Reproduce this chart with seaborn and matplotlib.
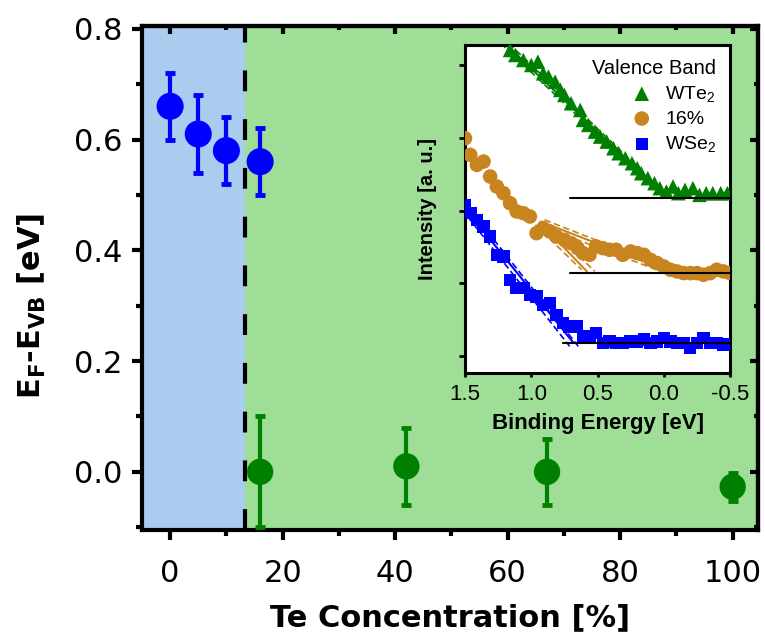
import numpy as np
import pandas as pd
import matplotlib
matplotlib.use("Agg")
import matplotlib.pyplot as plt
from matplotlib.ticker import MultipleLocator
import seaborn as sns

# ---------------- main data ----------------
se_conc = [0, 5, 10, 16]
se_val = [0.66, 0.61, 0.58, 0.56]
se_err = [0.06, 0.07, 0.06, 0.06]

te_conc = [16, 42, 67, 100]
te_val = [0.00, 0.01, 0.00, -0.027]
te_err = [0.10, 0.07, 0.06, 0.025]

boundary = 13.3

# ---------------- inset data ----------------
wte2_E = [1.16, 1.12, 1.06, 1.00, 0.95, 0.91, 0.87, 0.82, 0.78, 0.75, 0.70, 0.63,
          0.61, 0.57, 0.52, 0.48, 0.43, 0.38, 0.34, 0.29, 0.24, 0.20, 0.17, 0.12,
          0.07, 0.03, -0.02, -0.07, -0.11, -0.16, -0.22, -0.27, -0.32, -0.37, -0.43, -0.48]
wte2_I = [97, 95.5, 94, 92.5, 93.5, 90, 89, 87.5, 85, 83.5, 81, 79,
          76, 74.5, 72.5, 71, 69.5, 67.5, 66, 64.5, 63, 61.5, 60, 58.5,
          57, 55.5, 54.5, 56, 54, 55, 55.5, 53.5, 54, 54, 54, 54]

mix_E = [1.50, 1.46, 1.41, 1.36, 1.31, 1.26, 1.21, 1.16, 1.11, 1.06, 1.01, 0.96,
         0.91, 0.86, 0.81, 0.75, 0.70, 0.65, 0.61, 0.56, 0.51, 0.46, 0.41, 0.36,
         0.31, 0.25, 0.20, 0.15, 0.10, 0.05, 0.00, -0.05, -0.10, -0.15, -0.20,
         -0.25, -0.30, -0.35, -0.40, -0.45, -0.50]
mix_I = [70.5, 65.5, 62.5, 63.5, 59, 56, 54, 51, 48.5, 48, 47, 42,
         43.5, 42.5, 41, 40, 39, 37.5, 36, 35.5, 38, 37.5, 37, 37,
         35.5, 36.5, 36, 35.5, 34, 33, 32, 31, 30.5, 30, 30,
         30, 29.5, 30, 31, 30.5, 30]

wse2_E = [1.50, 1.46, 1.41, 1.36, 1.31, 1.26, 1.21, 1.16, 1.11, 1.06, 1.01, 0.96,
          0.91, 0.86, 0.81, 0.76, 0.71, 0.66, 0.61, 0.56, 0.51, 0.46, 0.41, 0.36,
          0.31, 0.25, 0.20, 0.15, 0.10, 0.05, 0.00, -0.05, -0.10, -0.15, -0.20,
          -0.25, -0.30, -0.35, -0.40, -0.45, -0.49]
wse2_I = [50.5, 48, 46, 44, 41, 35.5, 35, 28, 25.5, 25.5, 23.5, 23,
          20.5, 21, 17.5, 15, 14, 14, 11, 11, 12, 9, 9.5, 9,
          9, 9.5, 9.5, 10, 9, 9.5, 10.5, 9.5, 9, 9, 7.5,
          9, 10.5, 9, 9, 8.5, 8.5]

# fit lines (endpoints)
wte2_fit_E, wte2_fit_I = [1.20, 0.00], [99, 53.5]
wte2_dash = [([1.23, 0.02], [99, 53.5]), ([1.17, -0.02], [99, 53.5])]
wte2_base_E, wte2_base_I = [0.71, -0.5], [52.7, 52.7]

mix_fits = [([0.93, 0.58], [45, 30.5]), ([0.93, -0.04], [45.5, 30.5])]
mix_dash = [([0.91, 0.52], [45.5, 30.5]), ([0.97, 0.62], [44.5, 31]),
            ([0.90, -0.06], [46, 31]), ([0.95, 0.02], [44.5, 30.5])]
mix_base_E, mix_base_I = [0.71, -0.5], [30, 30]

wse2_fit_E, wse2_fit_I = [1.50, 0.68], [49.5, 9]
wse2_dash = [([1.53, 0.71], [49.5, 8]), ([1.47, 0.645], [49.5, 8])]
wse2_base_E, wse2_base_I = [0.76, -0.5], [9, 9]

inset_yticks = [5, 27, 48.5, 70.5, 92.5]
inset_xticks = [1.5, 1.0, 0.5, 0.0, -0.5]
inset_xticklabels = ["1.5", "1.0", "0.5", "0.0", "-0.5"]

# ---------------- style ----------------
sns.set_theme(style="ticks")
plt.rcParams["font.family"] = ["Liberation Sans", "DejaVu Sans"]
plt.rcParams["mathtext.fontset"] = "custom"
plt.rcParams["mathtext.rm"] = "Liberation Sans"
plt.rcParams["mathtext.bf"] = "DejaVu Sans:bold"
plt.rcParams["mathtext.it"] = "Liberation Sans:italic"
plt.rcParams["mathtext.default"] = "regular"
for key in ["text.color", "axes.labelcolor", "xtick.color", "ytick.color",
            "xtick.labelcolor", "ytick.labelcolor", "axes.edgecolor"]:
    plt.rcParams[key] = "black"

MAINFONT = ["DejaVu Sans"]

BLUE = "#0000FF"
GREEN = "#008000"
ORANGE = "#C8841E"
LBLUE = "#AACCEE"
LGREEN = "#9EDE96"

fig = plt.figure(figsize=(7.65, 6.34), dpi=100)
ax = fig.add_axes([142 / 765, 1 - 530 / 634, 616 / 765, 504 / 634])

ax.axvspan(-10, boundary, color=LBLUE, lw=0, zorder=0)
ax.axvspan(boundary, 110, color=LGREEN, lw=0, zorder=0)
ax.axvline(boundary, color="black", lw=3, linestyle=(0, (5, 6.7)), zorder=2)

df_se = pd.DataFrame({"x": se_conc, "y": se_val})
df_te = pd.DataFrame({"x": te_conc, "y": te_val})

ax.errorbar(se_conc, se_val, yerr=se_err, fmt="none", ecolor=BLUE, elinewidth=3,
            capsize=3.6, capthick=3.5, zorder=3)
ax.errorbar(te_conc, te_val, yerr=te_err, fmt="none", ecolor=GREEN, elinewidth=3,
            capsize=3.6, capthick=3.5, zorder=3)
sns.scatterplot(data=df_se, x="x", y="y", ax=ax, color=BLUE, s=380, edgecolor="none",
                marker="o", zorder=4, legend=False)
sns.scatterplot(data=df_te, x="x", y="y", ax=ax, color=GREEN, s=360, edgecolor="none",
                marker="o", zorder=4, legend=False)

ax.set_xlim(-5, 104.5)
ax.set_ylim(-0.105, 0.805)
ax.xaxis.set_major_locator(MultipleLocator(20))
ax.xaxis.set_minor_locator(MultipleLocator(10))
ax.yaxis.set_major_locator(MultipleLocator(0.2))
ax.yaxis.set_minor_locator(MultipleLocator(0.1))
ax.yaxis.set_major_formatter(matplotlib.ticker.FormatStrFormatter("%.1f"))
ax.tick_params(which="major", direction="out", length=7, width=3, labelsize=22,
               color="black", labelcolor="black")
ax.tick_params(axis="x", which="major", pad=14)
ax.tick_params(axis="y", which="major", pad=7)
ax.tick_params(which="minor", direction="out", length=4, width=3, color="black")
for lab in ax.get_xticklabels() + ax.get_yticklabels():
    lab.set_fontfamily(MAINFONT)
for sp in ax.spines.values():
    sp.set_visible(True)
    sp.set_linewidth(3)
    sp.set_color("black")

top = ax.secondary_xaxis("top")
top.xaxis.set_major_locator(MultipleLocator(20))
top.xaxis.set_minor_locator(MultipleLocator(10))
top.tick_params(which="major", direction="in", length=6, width=3, labeltop=False)
top.tick_params(which="minor", direction="in", length=3, width=3)
top.spines["top"].set_linewidth(3)
right = ax.secondary_yaxis("right")
right.yaxis.set_major_locator(MultipleLocator(0.2))
right.yaxis.set_minor_locator(MultipleLocator(0.1))
right.tick_params(which="major", direction="in", length=6, width=3, labelright=False)
right.tick_params(which="minor", direction="in", length=3, width=3)
right.spines["right"].set_linewidth(3)

ax.set_xlabel("Te Concentration [%]", fontsize=22, fontweight="bold", family=MAINFONT,
              color="black")
ax.set_ylabel(r"$\mathbf{E_F}$-$\mathbf{E_{VB}}$ [eV]", fontsize=22, fontweight="bold",
              family=MAINFONT, color="black")
ax.xaxis.set_label_coords(0.5, -0.145)
ax.yaxis.set_label_coords(-0.153, 0.444)

# ---------------- inset ----------------
ins = fig.add_axes([465 / 765, 1 - 373 / 634, 265 / 765, 328 / 634])
ins.set_facecolor("white")
ins.set_zorder(5)

df_w = pd.DataFrame({"E": wte2_E, "I": wte2_I})
df_m = pd.DataFrame({"E": mix_E, "I": mix_I})
df_s = pd.DataFrame({"E": wse2_E, "I": wse2_I})

for (xe, yi) in wte2_dash:
    ins.plot(xe, yi, color=GREEN, lw=1.2, ls=(0, (4, 2)), zorder=2)
ins.plot(wte2_fit_E, wte2_fit_I, color=GREEN, lw=1.5, zorder=2)
for (xe, yi) in mix_dash:
    ins.plot(xe, yi, color=ORANGE, lw=1.2, ls=(0, (4, 2)), zorder=2)
for (xe, yi) in mix_fits:
    ins.plot(xe, yi, color=ORANGE, lw=1.5, zorder=2)
for (xe, yi) in wse2_dash:
    ins.plot(xe, yi, color=BLUE, lw=1.2, ls=(0, (4, 2)), zorder=2)
ins.plot(wse2_fit_E, wse2_fit_I, color=BLUE, lw=1.5, zorder=2)

sns.scatterplot(data=df_w, x="E", y="I", ax=ins, color=GREEN, marker="^", s=110,
                edgecolor="none", zorder=3, label="WTe$_2$")
sns.scatterplot(data=df_m, x="E", y="I", ax=ins, color=ORANGE, marker="o", s=110,
                edgecolor="none", zorder=3, label="16%")
sns.scatterplot(data=df_s, x="E", y="I", ax=ins, color=BLUE, marker="s", s=80,
                edgecolor="none", zorder=3, label="WSe$_2$")

for be, bi in [(wte2_base_E, wte2_base_I), (mix_base_E, mix_base_I), (wse2_base_E, wse2_base_I)]:
    ins.plot(be, bi, color="black", lw=1.5, zorder=4)

ins.set_xlim(1.5, -0.5)
ins.set_ylim(0, 98.5)
ins.set_xticks(inset_xticks)
ins.set_xticklabels(inset_xticklabels)
ins.set_yticks(inset_yticks)
ins.set_yticklabels([])
ins.tick_params(axis="x", direction="out", length=3, width=2, labelsize=16, pad=5,
                color="black", labelcolor="black")
ins.tick_params(axis="y", direction="out", length=4, width=2, color="black")
for sp in ins.spines.values():
    sp.set_visible(True)
    sp.set_linewidth(2.2)
    sp.set_color("black")
ins.set_xlabel("Binding Energy [eV]", fontsize=16, fontweight="bold", labelpad=6,
               color="black")
ins.set_ylabel("Intensity [a. u.]", fontsize=14.5, fontweight="bold", labelpad=13,
               color="black")

leg = ins.legend(title="Valence Band", loc="upper right", frameon=False, fontsize=14,
                 title_fontsize=14.5, handletextpad=0.2, borderaxespad=0.3,
                 labelspacing=0.32, markerscale=1.0, alignment="right")
leg.get_title().set_color("black")
for t in leg.get_texts():
    t.set_color("black")

fig.savefig("out.png", dpi=100)
